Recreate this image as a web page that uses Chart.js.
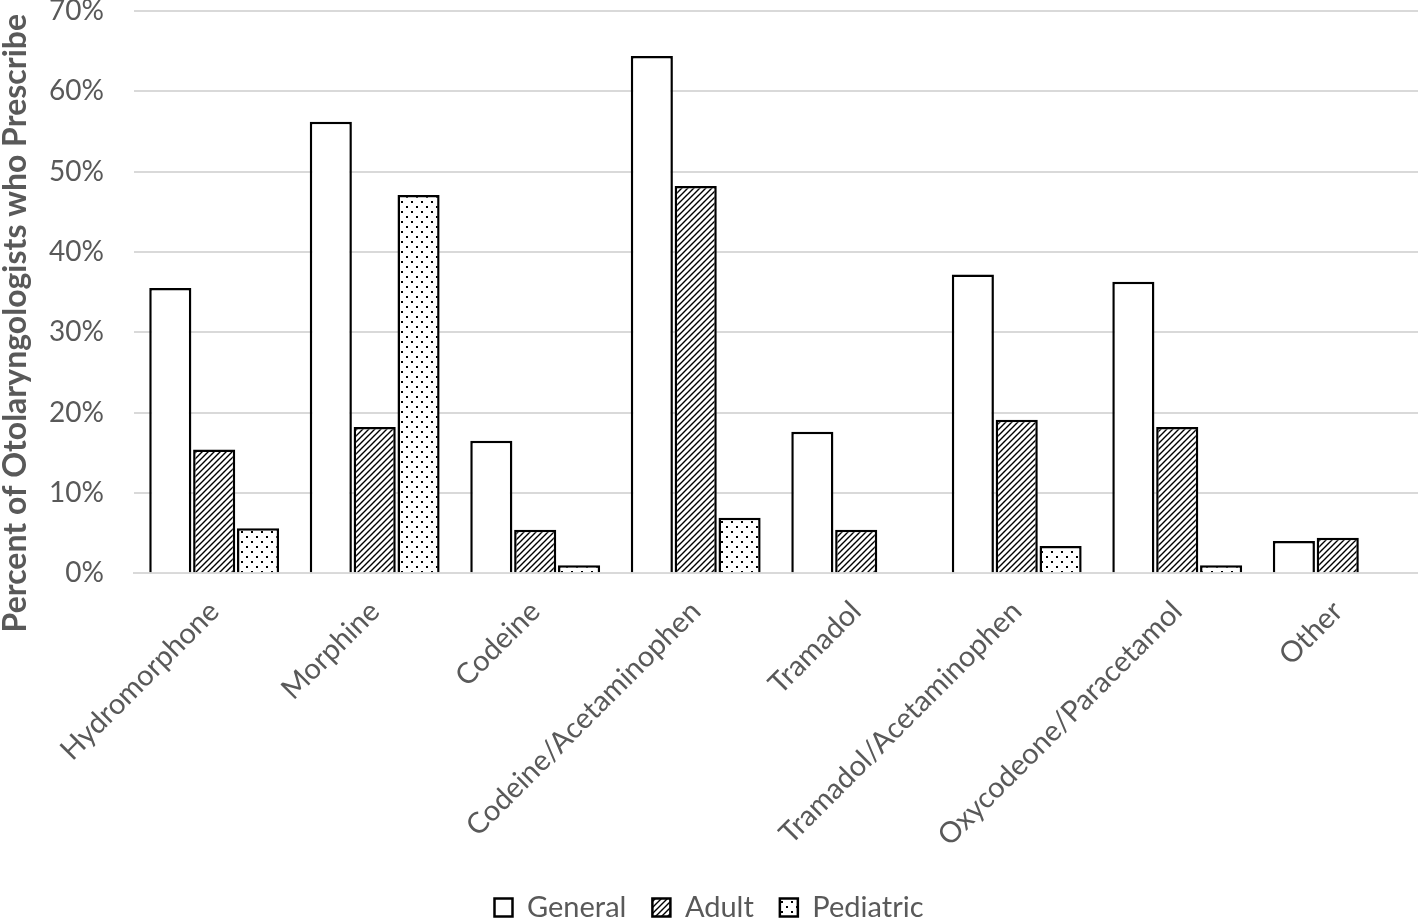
<!DOCTYPE html>
<html>
<head>
<meta charset="utf-8">
<script src="https://cdn.jsdelivr.net/npm/chart.js@4.4.1/dist/chart.umd.min.js"></script>
<style>
    html, body { margin: 0; padding: 0; background: #fff; }
    #wrap { width: 1418px; height: 919px; }
</style>
</head>
<body>
<div id="wrap"><canvas id="opioidChart"></canvas></div>
<script>
const categories = ['Hydromorphone', 'Morphine', 'Codeine', 'Codeine/Acetaminophen', 'Tramadol',
    'Tramadol/Acetaminophen', 'Oxycodeone/Paracetamol', 'Other'];
const generalValues = [35.5, 56.2, 16.5, 64.4, 17.6, 37.2, 36.3, 4.0];
const adultValues = [15.4, 18.2, 5.4, 48.2, 5.4, 19.1, 18.2, 4.4];
const pediatricValues = [5.6, 47.1, 1.0, 6.9, 0, 3.4, 1.0, 0];
const yTicks = [0, 10, 20, 30, 40, 50, 60, 70];

document.addEventListener('DOMContentLoaded', function() {
    initOpioidChart();
});

function makeHatch(ctx) {
    const c = document.createElement('canvas');
    c.width = 6; c.height = 6;
    const g = c.getContext('2d');
    g.fillStyle = '#fff';
    g.fillRect(0, 0, 6, 6);
    g.strokeStyle = '#000';
    g.lineWidth = 1.4;
    g.beginPath();
    g.moveTo(-1, 7); g.lineTo(7, -1);
    g.moveTo(-1, 1); g.lineTo(1, -1);
    g.moveTo(5, 7); g.lineTo(7, 5);
    g.stroke();
    return ctx.createPattern(c, 'repeat');
}

function makeDots(ctx) {
    const c = document.createElement('canvas');
    c.width = 10; c.height = 10;
    const g = c.getContext('2d');
    g.fillStyle = '#fff';
    g.fillRect(0, 0, 10, 10);
    g.fillStyle = '#000';
    g.fillRect(1, 1, 2, 2);
    g.fillRect(6, 6, 2, 2);
    return ctx.createPattern(c, 'repeat');
}

function initOpioidChart() {
    const ctx = document.getElementById('opioidChart').getContext('2d');
    const font = 'Lato, "Open Sans", sans-serif';

    new Chart(ctx, {
        type: 'bar',
        data: {
            labels: categories,
            datasets: [
                { label: 'General', data: generalValues, backgroundColor: '#fff', borderColor: '#000', borderWidth: 2.5 },
                { label: 'Adult', data: adultValues, backgroundColor: makeHatch(ctx), borderColor: '#000', borderWidth: 2.5 },
                { label: 'Pediatric', data: pediatricValues, backgroundColor: makeDots(ctx), borderColor: '#000', borderWidth: 2.5 }
            ]
        },
        options: {
            responsive: true,
            maintainAspectRatio: false,
            animation: false,
            layout: { padding: { top: 11, right: 0, left: 0, bottom: -13 } },
            datasets: {
                bar: { categoryPercentage: 0.82, barPercentage: 0.96 }
            },
            plugins: {
                legend: {
                    position: 'bottom',
                    labels: {
                        font: { family: font, size: 29 },
                        color: '#595959',
                        boxWidth: 18,
                        boxHeight: 18,
                        padding: 26
                    }
                },
                tooltip: { enabled: false }
            },
            scales: {
                x: {
                    grid: { display: false },
                    border: { color: '#d9d9d9', width: 2 },
                    ticks: {
                        font: { family: font, size: 29 },
                        color: '#595959',
                        minRotation: 45,
                        maxRotation: 45,
                        padding: 13
                    },
                    afterFit: function(scale) {
                        scale.paddingTop = 0;
                        scale.height += 1;
                    }
                },
                y: {
                    min: 0,
                    max: 70,
                    afterBuildTicks: function(axis) {
                        axis.ticks = yTicks.map(v => ({ value: v }));
                    },
                    afterFit: function(scale) {
                        scale.paddingTop = 0;
                        scale.width -= 13;
                    },
                    grid: { color: '#d9d9d9', lineWidth: 2, drawTicks: false },
                    border: { display: false },
                    ticks: {
                        font: { family: font, size: 28 },
                        color: '#595959',
                        padding: 30,
                        callback: function(v) { return v + '%'; }
                    },
                    title: {
                        display: true,
                        text: 'Percent of Otolaryngologists who Prescribe        ',
                        font: { family: font, size: 32, weight: 'bold', lineHeight: 1 },
                        color: '#595959',
                        padding: { top: 0, bottom: 0 }
                    }
                }
            }
        }
    });
}
</script>
</body>
</html>
